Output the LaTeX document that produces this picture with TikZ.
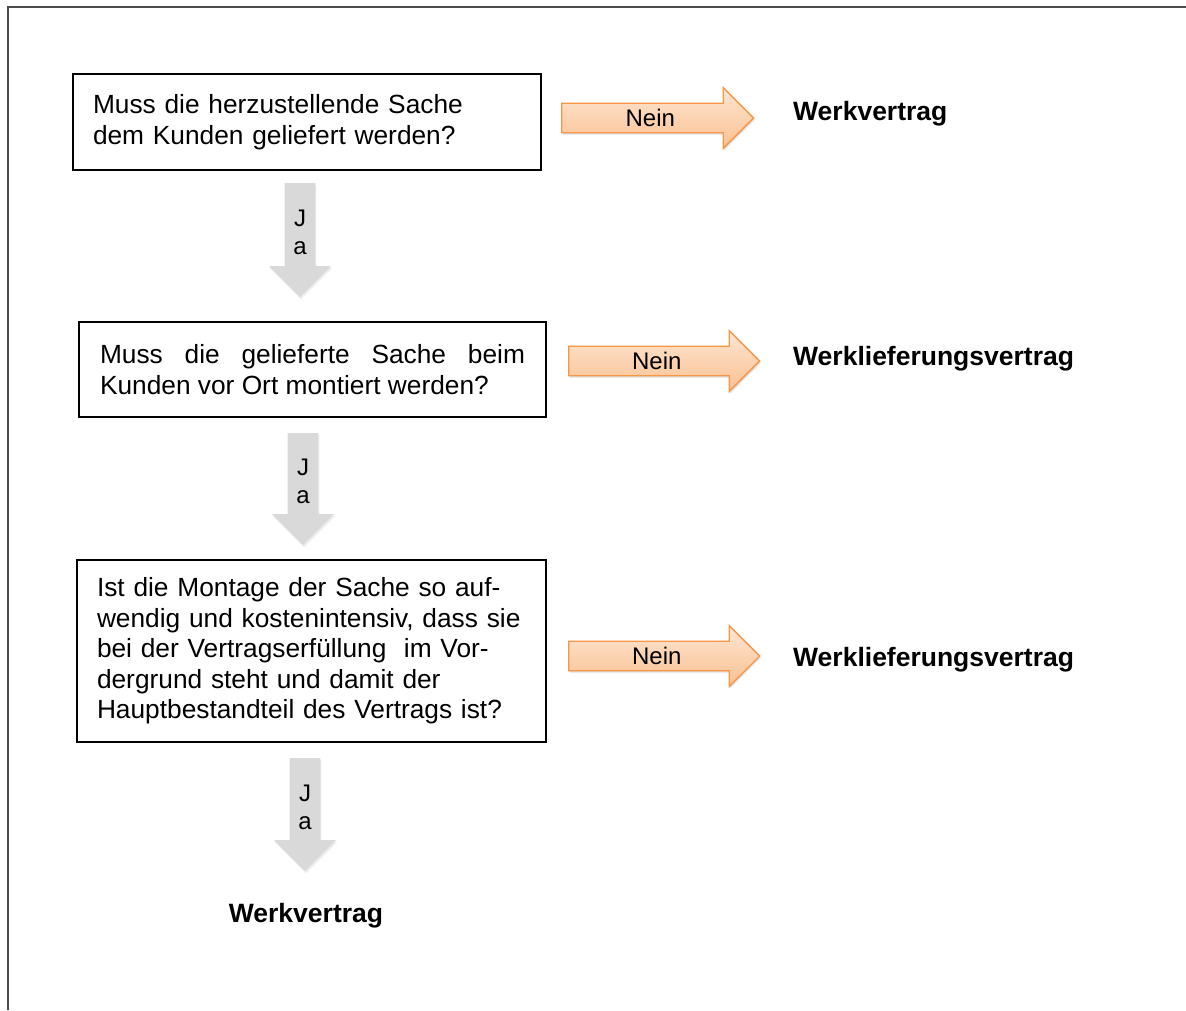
\documentclass[tikz,border=0pt]{standalone}
\usepackage{fontspec}
\setmainfont{Liberation Sans}
\usetikzlibrary{positioning,shapes.arrows,shadows}
\definecolor{neinline}{HTML}{F79646}
\definecolor{neintop}{HTML}{FDE6D3}
\definecolor{neinbottom}{HTML}{FAC090}
\definecolor{jafill}{HTML}{D9D9D9}

\begin{document}
\begin{tikzpicture}[x=1pt, y=-1pt,
  question/.style={draw, line width=1.1pt, inner xsep=20pt, inner ysep=0pt, minimum height=96pt, font=\fontsize{26.3}{30.5}\selectfont},
  nein/.style={single arrow, draw=neinline, line width=1.3pt, top color=neintop, bottom color=neinbottom, minimum width=61pt, single arrow head extend=15pt, single arrow tip angle=90, inner xsep=2pt, inner ysep=4.5pt, font=\fontsize{24}{28}\selectfont, drop shadow={opacity=0.25, shadow xshift=1pt, shadow yshift=-2pt}},
  ja/.style={single arrow, shape border rotate=270, fill=jafill, minimum width=62pt, single arrow head extend=14pt, single arrow tip angle=90, inner xsep=7pt, inner ysep=2pt, align=center, font=\fontsize{24}{28}\selectfont, drop shadow={opacity=0.15, shadow xshift=1pt, shadow yshift=-2pt}},
  result/.style={inner sep=0pt, font=\fontsize{26.5}{30}\selectfont\bfseries}]
\useasboundingbox (0,0) rectangle (1186,1010);

% Frame
\draw[line width=2pt, black!70] (8,1010) -- (8,7) -- (1186,7);

% Questions
\node[question, text width=428pt, align=left] (q1) at (307,122) {Muss die herzustellende Sache\\dem Kunden geliefert werden?};
\node[question, text width=425pt, inner xsep=21pt, minimum height=95pt, align=justify] (q2) at (312.5,369.5) {Muss die gelieferte Sache beim\linebreak Kunden vor Ort montiert werden?};
\node[question, text width=429pt, minimum height=182pt, align=left] (q3) at (311.5,651) {Ist die Montage der Sache so auf-\\wendig und kostenintensiv, dass sie\\bei der Vertragserfüllung\ \ im Vor-\\dergrund steht und damit der\\Hauptbestandteil des Vertrags ist?};

% Nein arrows
\node[nein, minimum height=192pt, anchor=tail] (n1) at (561,118) {Nein};
\node[nein, minimum height=191pt, anchor=tail] (n2) at (568,361) {Nein};
\node[nein, minimum height=191pt, anchor=tail] (n3) at (568,656) {Nein};

% Ja arrows
\node[ja, minimum height=114pt, anchor=tail] (j1) at (300,183) {J\\a};
\node[ja, minimum height=112pt, anchor=tail] (j2) at (303,433) {J\\a};
\node[ja, minimum height=113pt, anchor=tail] (j3) at (305,758) {J\\a};

% Results
\node[result, anchor=west] (w1) at (793,114) {Werkvertrag};
\node[result, anchor=west] (w2) at (793,359) {Werklieferungsvertrag};
\node[result, anchor=west] (w3) at (793,660) {Werklieferungsvertrag};
\node[result] (w4) at (306,916) {Werkvertrag};

\end{tikzpicture}
\end{document}
